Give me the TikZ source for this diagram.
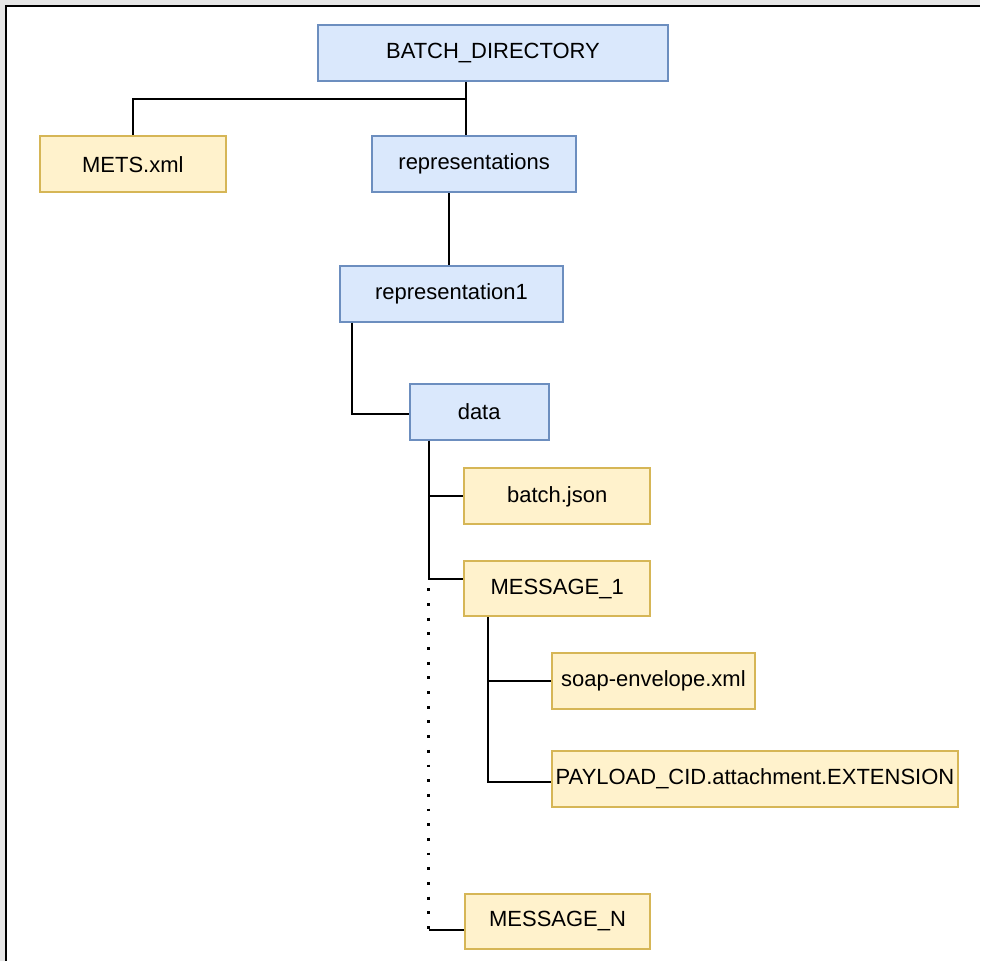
\documentclass[tikz,border=0pt]{standalone}
\usepackage{fontspec}
\setmainfont{Liberation Sans}
\usetikzlibrary{positioning, calc}

\definecolor{dirfill}{HTML}{DAE8FC}
\definecolor{dirline}{HTML}{6C8EBF}
\definecolor{filefill}{HTML}{FFF2CC}
\definecolor{fileline}{HTML}{D6B656}
\definecolor{framegray}{HTML}{E6E6E6}

\begin{document}
\begin{tikzpicture}[
    x=1pt, y=-1pt,
    font=\fontsize{22}{26}\selectfont,
    dirbox/.style={
        draw=dirline, fill=dirfill, line width=2pt,
        minimum height=56pt, inner sep=0pt
    },
    filebox/.style={
        draw=fileline, fill=filefill, line width=2pt,
        minimum height=56pt, inner sep=0pt
    },
    tree/.style={draw, line width=2pt},
    dotline/.style={draw, line width=2.8pt, dash pattern=on 2.8pt off 11.9pt}
]

% ==========================================
% FRAME
% ==========================================

\fill[framegray] (0,0) rectangle (981,962);
\fill[white] (6,6) rectangle (981,962);
\draw[line width=2.2pt] (6,962) -- (6,6) -- (981,6);

% ==========================================
% TOP LEVEL: BATCH DIRECTORY
% ==========================================

\node[dirbox, minimum width=351pt] (BatchDir) at (493.5, 53) {BATCH\_DIRECTORY};

\node[filebox, minimum width=186pt] (MetsFile) at (133, 164.5) {METS.xml};
\node[dirbox, minimum width=204pt] (Reps) at (474.7, 164.5) {representations};

\coordinate (Split) at (467, 99);
\draw[tree] (BatchDir.south -| Split) -- (Split) -| (MetsFile.north);
\draw[tree] (Split) -- (Reps.north -| Split);

% ==========================================
% REPRESENTATION LAYER
% ==========================================

\node[dirbox, minimum width=222.6pt] (Rep1) at (452, 294) {representation1};
\draw[tree] ([xshift=-25.4pt]Reps.south) -- ([xshift=-25.4pt]Reps.south |- Rep1.north);

\node[dirbox, minimum width=139.3pt] (Data) at (479.7, 412) {data};
\draw[tree] ([xshift=-99.3pt]Rep1.south) |- ([yshift=-2pt]Data.west);

% ==========================================
% DATA CONTENTS
% ==========================================

\node[filebox, minimum width=185.7pt] (BatchJson) at (557.8, 497) {batch.json};
\node[filebox, minimum width=185.7pt, minimum height=55pt] (Msg1) at (557.8, 589.5) {MESSAGE\_1};
\node[filebox, minimum width=185pt, minimum height=55pt] (MsgN) at (558.2, 922.5) {MESSAGE\_N};

\draw[tree] ([xshift=-50.7pt]Data.south) |- (BatchJson.west);
\draw[tree] ([xshift=-50.7pt]Data.south) |- ([yshift=9.5pt]Msg1.west);

\coordinate (Dots) at (429, 589);
\draw[dotline] (Dots) -- ([yshift=-8pt]Dots |- MsgN.west);
\draw[tree] ([yshift=-8.5pt]MsgN.west -| Dots) -- ([yshift=-8.5pt]MsgN.west);

% ==========================================
% MESSAGE CONTENTS
% ==========================================

\node[filebox, minimum width=203.7pt] (Soap) at (654.2, 682) {soap-envelope.xml};
\node[filebox, minimum width=407pt, minimum height=55.4pt] (Payload) at (755.8, 780) {PAYLOAD\_CID.attachment.EXTENSION};

\draw[tree] ([xshift=-69.5pt]Msg1.south) |- (Soap.west);
\draw[tree] ([xshift=-69.5pt]Msg1.south) |- ([yshift=-3.3pt]Payload.west);

\end{tikzpicture}
\end{document}
